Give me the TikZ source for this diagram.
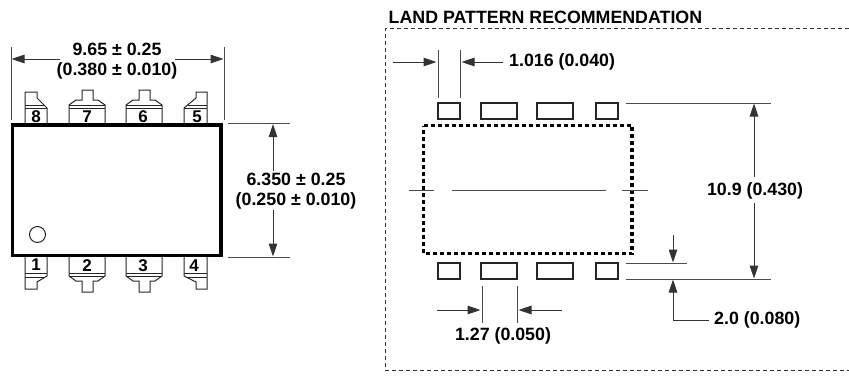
\documentclass[tikz,border=0pt]{standalone}
\usepackage{fontspec}
\setmainfont{Liberation Sans}
\usetikzlibrary{arrows.meta}
\tikzset{
  x=1pt,y=-1pt,
  lbl/.style={font=\fontsize{17.8}{19.8}\selectfont\bfseries,align=center,inner sep=0pt,text=black},
  num/.style={font=\fontsize{17}{18}\selectfont\bfseries,inner sep=0pt,text=black},
  pinline/.style={draw=black!85,line width=1pt,line join=miter},
  dim/.style={draw=black!80,line width=1pt},
  ext/.style={draw=black!70,line width=1pt},
  arr/.style={dim,-{Triangle[length=13pt,width=8.5pt]}},
  pad/.style={draw=black!85,line width=1.2pt,fill=none,minimum height=16pt,inner sep=0pt,outer sep=0pt},
  narrowpad/.style={pad,minimum width=22pt},
  widepad/.style={pad,minimum width=36pt},
}
\begin{document}
\begin{tikzpicture}
\useasboundingbox (0,0) rectangle (849,375);
% package body
\node[draw=black,line width=3.2pt,minimum width=208.5pt,minimum height=130.5pt,inner sep=0pt,outer sep=0pt] (body) at (116.8,190.2) {};
\node[draw=black!85,line width=1pt,circle,minimum size=16pt,inner sep=0pt] (dot) at (37.5,234.5) {};
% top pins
\draw[pinline] (25,124)--(25,92)--(37,92)--(37,98)--(47,108)--(47,124);
\draw[pinline] (25,105)--(43.5,105) (25,108)--(47,108);
\draw[pinline] (207,124)--(207,92)--(196,92)--(196,98)--(184,108)--(184,124);
\draw[pinline] (207,105)--(187.5,105) (207,108)--(184,108);
\foreach \a in {69,126}{
  \draw[pinline] (\a,124)--(\a,105)--(\a+7,100)--(\a+13,100)--(\a+13,90)--(\a+24,90)--(\a+24,100)--(\a+29,100)--(\a+36,105)--(\a+36,124);
  \draw[pinline] (\a,108)--(\a+36,108) (\a,105)--(\a+36,105);
}
% bottom pins
\draw[pinline] (25,257)--(25,289)--(37,289)--(37,282)--(47,276)--(47,257);
\draw[pinline] (25,273)--(47,273) (25,277)--(45,277);
\draw[pinline] (207,257)--(207,289)--(196,289)--(196,282)--(184,276)--(184,257);
\draw[pinline] (207,273)--(184,273) (207,277)--(186,277);
\foreach \a in {69,126}{
  \draw[pinline] (\a,257)--(\a,276)--(\a+7,281)--(\a+13,281)--(\a+13,292)--(\a+24,292)--(\a+24,281)--(\a+29,281)--(\a+36,276)--(\a+36,257);
  \draw[pinline] (\a,273)--(\a+36,273) (\a,276)--(\a+36,276);
}
\node[num] (n8) at (36,117) {8};
\node[num] (n7) at (87,117) {7};
\node[num] (n6) at (143,117) {6};
\node[num] (n5) at (197,117) {5};
\node[num] (n1) at (36,265) {1};
\node[num] (n2) at (87,266) {2};
\node[num] (n3) at (143,266) {3};
\node[num] (n4) at (194,266) {4};
% top dimension
\coordinate (tl) at (11,47); \coordinate (tlb) at (11,120);
\coordinate (tr) at (224,47); \coordinate (trb) at (224,120);
\draw[ext] (tl)--(tlb) (tr)--(trb);
\node[lbl] (w) at (117,61.5) {9.65 ± 0.25\\(0.380 ± 0.010)};
\coordinate (wl) at (60,59); \coordinate (wr) at (175,59);
\coordinate (wla) at (11.5,59); \coordinate (wra) at (223.5,59);
\draw[arr] (wl)--(wla);
\draw[arr] (wr)--(wra);
% height dimension
\coordinate (hta) at (228,123.5); \coordinate (htb) at (290,123.5);
\coordinate (hba) at (228,257); \coordinate (hbb) at (290,257);
\draw[ext] (hta)--(htb) (hba)--(hbb);
\node[lbl] (h) at (296,191.5) {6.350 ± 0.25\\(0.250 ± 0.010)};
\coordinate (h1) at (273,171); \coordinate (h1a) at (273,124);
\coordinate (h2) at (273,210); \coordinate (h2a) at (273,256.5);
\draw[arr] (h1)--(h1a);
\draw[arr] (h2)--(h2a);
% land pattern frame
\node[font=\fontsize{17.8}{20}\selectfont\bfseries,anchor=west,inner sep=0pt,text=black] (title) at (388.5,17) {LAND PATTERN RECOMMENDATION};
\coordinate (f1) at (849,28.5); \coordinate (f2) at (385.5,28.5); \coordinate (f3) at (385.5,370.5); \coordinate (f4) at (849,370.5);
\draw[draw=black!80,line width=1pt,dash pattern=on 4pt off 3pt] (f1)--(f2)--(f3)--(f4);
% dotted outline
\coordinate (o1) at (423.5,125.5); \coordinate (o2) at (632,125.5); \coordinate (o3) at (632,253.5); \coordinate (o4) at (423.5,253.5);
\draw[draw=black,line width=3.4pt,dash pattern=on 4pt off 3pt] (o1)--(o2)--(o3)--(o4)--cycle;
% centre line
\coordinate (c1) at (409,190); \coordinate (c2) at (434,190); \coordinate (c3) at (451.5,190); \coordinate (c4) at (606,190); \coordinate (c5) at (622,190); \coordinate (c6) at (648,190);
\draw[ext] (c1)--(c2) (c3)--(c4) (c5)--(c6);
% pads
\node[narrowpad] (p1) at (449,111) {};
\node[widepad] (p2) at (499,111) {};
\node[widepad] (p3) at (555,111) {};
\node[narrowpad] (p4) at (607,111) {};
\node[narrowpad] (p5) at (449,271) {};
\node[widepad] (p6) at (499,271) {};
\node[widepad] (p7) at (555,271) {};
\node[narrowpad] (p8) at (607,271) {};
% 1.016 dimension
\coordinate (a1) at (438,50); \coordinate (a2) at (438,98);
\coordinate (a3) at (460,50); \coordinate (a4) at (460,98);
\draw[ext] (a1)--(a2) (a3)--(a4);
\coordinate (a5) at (393,62); \coordinate (a6) at (436.5,62);
\coordinate (a7) at (503,62); \coordinate (a8) at (461.5,62);
\draw[arr] (a5)--(a6);
\draw[arr] (a7)--(a8);
\node[lbl,anchor=west] (t1) at (509,61.5) {1.016 (0.040)};
% 1.27 dimension
\coordinate (b1) at (482,286); \coordinate (b2) at (482,323);
\coordinate (b3) at (517,286); \coordinate (b4) at (517,323);
\draw[ext] (b1)--(b2) (b3)--(b4);
\coordinate (b5) at (437,310); \coordinate (b6) at (480.5,310);
\coordinate (b7) at (562,310); \coordinate (b8) at (518.5,310);
\draw[arr] (b5)--(b6);
\draw[arr] (b7)--(b8);
\node[lbl] (t2) at (503,336) {1.27 (0.050)};
% 10.9 dimension
\coordinate (d1) at (626,103); \coordinate (d2) at (771,103);
\coordinate (d3) at (626,279); \coordinate (d4) at (771,279);
\coordinate (d5) at (626,263); \coordinate (d6) at (687,263);
\draw[ext] (d1)--(d2) (d3)--(d4) (d5)--(d6);
\node[lbl] (t3) at (755,191) {10.9 (0.430)};
\coordinate (e1) at (754,177); \coordinate (e2) at (754,103.5);
\coordinate (e3) at (754,203); \coordinate (e4) at (754,278.5);
\draw[arr] (e1)--(e2);
\draw[arr] (e3)--(e4);
% 2.0 dimension
\coordinate (g1) at (673,235); \coordinate (g2) at (673,262.5);
\draw[arr] (g1)--(g2);
\node[lbl,anchor=west] (t4) at (714,320) {2.0 (0.080)};
\coordinate (g3) at (673,279.5);
\draw[dim,{Triangle[length=13pt,width=8.5pt]}-] (g3)--(g3|-t4)--([xshift=-5pt]t4.west);
\end{tikzpicture}
\end{document}
